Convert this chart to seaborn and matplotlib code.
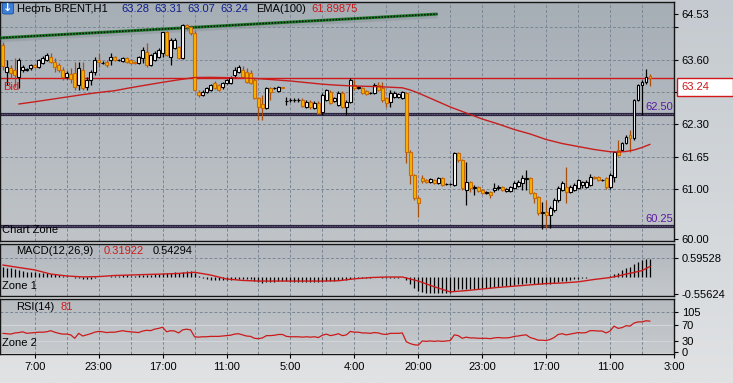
import numpy as np
import pandas as pd
import matplotlib
matplotlib.use("Agg")
import matplotlib.pyplot as plt
import seaborn as sns
from matplotlib.colors import LinearSegmentedColormap
from matplotlib.patches import Rectangle, FancyBboxPatch

# ---------------- data ----------------
open_ = [63.90,63.35,63.43,63.39,63.25,63.39,63.40,63.43,63.49,63.45,
         63.53,63.59,63.65,63.55,63.49,63.39,63.25,63.31,63.33,63.09,
         63.39,63.05,63.19,63.35,63.59,63.53,63.55,63.59,63.65,63.59,
         63.57,63.63,63.59,63.55,63.53,63.63,63.75,63.49,63.59,63.65,
         63.73,64.16,63.65,63.83,63.85,63.63,64.30,64.26,64.14,62.95,
         62.89,62.95,62.99,63.13,63.09,63.05,63.13,63.13,63.29,63.35,
         63.39,63.35,63.33,63.19,62.83,62.71,62.63,63.03,63.03,62.97,
         63.05,62.77,62.79,62.79,62.79,62.79,62.65,62.75,62.63,62.73,
         62.55,62.79,62.95,62.77,62.69,62.93,62.65,62.75,63.09,63.03,
         63.03,62.97,62.93,62.93,63.09,63.03,62.83,62.75,62.85,62.85,
         62.83,62.93,61.74,61.28,60.82,61.22,61.18,61.14,61.18,61.12,
         61.22,61.10,61.10,61.08,61.72,61.58,60.98,61.14,61.02,61.04,
         60.98,60.92,60.94,60.98,61.02,61.04,60.96,60.96,61.02,61.06,
         61.12,61.20,61.22,60.92,60.84,60.52,60.54,60.48,60.58,60.78,
         60.98,61.04,60.94,60.98,61.02,61.08,61.04,61.08,61.24,61.24,
         61.18,61.22,61.04,61.24,61.78,61.78,61.92,62.08,62.02,62.79,
         63.09,63.15,63.28]
high_ = [63.95,63.59,63.49,63.63,63.63,63.49,63.44,63.51,63.52,63.61,
         63.67,63.73,63.73,63.63,63.53,63.45,63.37,63.43,63.55,63.55,
         63.55,63.25,63.39,63.65,63.73,63.57,63.59,63.73,63.67,63.62,
         63.65,63.65,63.61,63.57,63.67,63.85,63.93,63.71,63.77,63.83,
         64.16,64.18,64.04,64.04,63.87,64.32,64.32,64.30,64.18,62.99,
         62.99,63.05,63.11,63.17,63.11,63.15,63.21,63.27,63.45,63.49,
         63.47,63.43,63.39,63.23,62.85,62.89,63.05,63.05,63.05,63.07,
         63.05,62.85,62.83,62.83,62.83,62.83,62.79,62.79,62.77,62.77,
         62.93,63.01,62.99,62.85,62.97,62.97,62.79,63.23,63.19,63.07,
         63.05,62.99,62.95,63.13,63.15,63.15,62.85,62.99,62.97,62.93,
         62.97,62.95,61.78,61.30,60.86,61.28,61.20,61.22,61.20,61.24,
         61.24,61.12,61.12,61.74,61.74,61.60,61.54,61.16,61.08,61.06,
         61.00,60.96,60.96,61.12,61.08,61.06,61.02,61.06,61.16,61.18,
         61.28,61.38,61.24,60.94,60.86,60.74,60.78,60.66,60.82,61.06,
         61.16,61.44,61.08,61.12,61.20,61.16,61.18,61.30,61.26,61.26,
         61.20,61.24,61.32,61.76,61.98,61.94,62.08,62.18,62.81,63.11,
         63.19,63.41,63.31]
low_ = [63.40,63.09,63.23,63.05,63.03,63.35,63.37,63.40,63.43,63.43,
        63.51,63.57,63.53,63.35,63.35,63.19,63.21,63.13,62.99,62.99,
        62.99,62.99,63.09,63.29,63.45,63.51,63.45,63.49,63.57,63.57,
        63.55,63.53,63.51,63.51,63.51,63.53,63.45,63.47,63.57,63.63,
        63.65,63.67,63.49,63.81,63.61,63.61,64.20,64.10,62.97,62.85,
        62.87,62.93,62.97,63.01,62.97,63.01,63.11,63.11,63.23,63.33,
        63.23,63.13,63.11,62.81,62.39,62.39,62.61,62.79,63.01,62.95,
        63.03,62.69,62.75,62.75,62.75,62.65,62.63,62.61,62.61,62.51,
        62.49,62.77,62.71,62.75,62.67,62.63,62.49,62.73,62.99,63.01,
        62.91,62.89,62.91,62.91,62.97,62.75,62.65,62.65,62.83,62.83,
        62.81,61.52,61.10,60.78,60.44,61.12,61.12,61.12,61.10,61.10,
        61.06,61.08,61.08,61.06,61.54,60.98,60.68,60.94,60.88,60.94,
        60.90,60.90,60.82,60.94,60.98,60.96,60.94,60.94,61.00,61.04,
        60.98,60.98,60.90,60.72,60.48,60.20,60.22,60.22,60.54,60.74,
        60.96,60.72,60.92,60.96,61.00,61.02,61.02,61.06,61.20,61.16,
        61.16,61.00,61.00,61.14,61.66,61.76,61.90,61.74,61.98,62.77,
        62.49,63.11,63.07]
close_ = [63.47,63.45,63.33,63.29,63.59,63.45,63.41,63.49,63.45,63.59,
          63.63,63.69,63.55,63.45,63.39,63.25,63.33,63.21,63.05,63.43,
          63.03,63.19,63.35,63.59,63.55,63.54,63.49,63.65,63.59,63.60,
          63.63,63.55,63.53,63.53,63.65,63.79,63.49,63.69,63.73,63.79,
          64.16,63.69,64.00,64.00,63.63,64.30,64.26,64.14,62.99,62.89,
          62.95,63.03,63.09,63.03,62.99,63.13,63.19,63.23,63.39,63.45,
          63.25,63.15,63.13,62.83,62.65,62.63,63.03,62.95,63.03,63.05,
          63.03,62.77,62.79,62.79,62.79,62.67,62.75,62.65,62.73,62.53,
          62.89,62.99,62.73,62.83,62.93,62.65,62.75,63.19,63.03,63.05,
          62.93,62.91,62.93,63.09,62.99,62.79,62.73,62.93,62.93,62.91,
          62.95,61.74,61.28,60.82,60.72,61.16,61.14,61.20,61.12,61.22,
          61.08,61.10,61.11,61.72,61.58,61.02,61.14,61.02,61.04,60.96,
          60.92,60.94,60.88,61.02,61.04,60.98,61.00,61.04,61.12,61.14,
          61.22,61.22,60.92,60.82,60.52,60.54,60.48,60.62,60.78,61.02,
          61.12,60.94,61.04,61.08,61.18,61.14,61.14,61.24,61.22,61.18,
          61.18,61.04,61.28,61.74,61.68,61.92,62.04,62.02,62.79,63.09,
          63.15,63.25,63.24]

ema_idx = [4,8,12,16,20,24,28,32,36,40,44,48,52,56,60,64,68,72,76,80,84,88,92,96,100,
           102,104,108,112,116,120,124,128,132,136,140,144,148,152,154,156,158,160,162]
ema_val = [62.710,62.755,62.803,62.851,62.899,62.942,62.978,63.038,63.093,63.147,
           63.197,63.243,63.247,63.241,63.233,63.221,63.197,63.173,63.141,63.109,
           63.087,63.072,63.064,63.052,63.036,62.992,62.932,62.791,62.650,62.529,
           62.408,62.308,62.197,62.107,61.996,61.915,61.855,61.795,61.750,61.744,
           61.755,61.785,61.835,61.899]

macd_hist = [0.30,0.28,0.26,0.24,0.20,0.18,0.16,0.14,0.13,0.12,
             0.11,0.10,0.08,0.07,0.05,0.03,0.01,0.00,-0.03,-0.05,
             -0.07,-0.08,-0.06,-0.04,-0.02,-0.01,0.00,0.01,0.02,0.03,
             0.04,0.04,0.03,0.03,0.04,0.06,0.05,0.05,0.07,0.09,
             0.12,0.11,0.12,0.13,0.12,0.16,0.18,0.18,0.10,0.02,
             -0.04,-0.08,-0.10,-0.11,-0.12,-0.12,-0.12,-0.11,-0.09,-0.07,
             -0.07,-0.08,-0.09,-0.13,-0.18,-0.21,-0.18,-0.17,-0.16,-0.15,
             -0.14,-0.15,-0.16,-0.16,-0.16,-0.17,-0.17,-0.17,-0.17,-0.18,
             -0.16,-0.14,-0.14,-0.13,-0.12,-0.12,-0.12,-0.07,-0.05,-0.04,
             -0.04,-0.04,-0.04,-0.02,-0.02,-0.04,-0.05,-0.04,-0.03,-0.03,
             -0.02,-0.12,-0.24,-0.36,-0.46,-0.48,-0.50,-0.51,-0.52,-0.52,
             -0.52,-0.52,-0.51,-0.44,-0.40,-0.40,-0.40,-0.39,-0.38,-0.38,
             -0.37,-0.36,-0.35,-0.34,-0.32,-0.31,-0.30,-0.28,-0.26,-0.24,
             -0.22,-0.20,-0.21,-0.22,-0.24,-0.24,-0.24,-0.23,-0.21,-0.18,
             -0.15,-0.13,-0.11,-0.09,-0.07,-0.05,-0.04,-0.02,-0.01,0.00,
             0.00,-0.01,0.02,0.08,0.12,0.20,0.26,0.31,0.39,0.46,
             0.52,0.54,0.54294]

sig_idx = [0,4,8,12,16,20,24,28,32,36,40,44,48,52,56,60,64,68,72,76,80,84,88,92,96,100,
           104,108,112,116,120,124,128,132,136,140,144,148,152,154,156,158,160,162]
sig_val = [0.365,0.286,0.21,0.08,0.02,-0.01,0.0,0.035,0.05,0.066,0.08,0.10,0.135,0.05,
           -0.075,-0.12,-0.14,-0.14,-0.14,-0.14,-0.14,-0.13,-0.07,-0.03,-0.013,-0.013,
           -0.14,-0.32,-0.48,-0.44,-0.39,-0.34,-0.30,-0.26,-0.22,-0.20,-0.165,-0.09,
           -0.03,0.02,0.08,0.13,0.19,0.319]

rsi_vals = [49,48,47,50,51,53,49,50,51,52,
            52,53,56,52,49,47,47,45,36,49,
            42,45,48,52,54,53,51,52,52,54,
            56,54,53,52,51,55,57,56,60,62,
            65,53,56,55,50,58,60,58,40,39,
            40,40,41,41,41,42,43,44,47,48,
            45,42,41,36,35,37,43,43,44,46,
            46,41,40,40,40,39,40,39,40,38,
            44,47,43,45,48,43,45,54,52,52,
            50,50,49,51,50,47,46,49,49,49,
            50,27,22,19,18,29,28,29,28,29,
            28,29,30,45,43,36,39,37,37,36,
            36,36,35,37,38,37,37,38,41,42,
            44,45,38,35,31,31,30,33,38,46,
            48,45,47,49,51,50,51,56,56,55,
            55,50,55,68,62,64,69,68,76,79,
            79,82,81]

trend_x = [-0.7, 108.8]
trend_y = [64.04, 64.52]

bid_price = 63.24
zone_levels = [62.50, 60.25]
price_ticks = [60.00, 61.00, 61.65, 62.30, 62.95, 63.60, 64.25, 64.53]
price_labels = ["60.00", "61.00", "61.65", "62.30", "", "63.60", "", "64.53"]
price_grid = [61.00, 61.65, 62.30, 62.95, 63.60, 64.25]
time_pos = [8, 24, 40, 56, 72, 88, 104, 120, 136, 152, 168]
time_labels = ["7:00", "23:00", "17:00", "11:00", "5:00", "4:00", "20:00",
               "23:00", "17:00", "11:00", "3:00"]

# ---------------- setup ----------------
sns.set_theme(style="white")
plt.rcParams['font.family'] = ['Liberation Sans', 'DejaVu Sans']
plt.rcParams['font.size'] = 8

W, H = 733, 383
fig = plt.figure(figsize=(W / 100, H / 100), dpi=100)

def gradient(ax, c1, c2):
    cmap = LinearSegmentedColormap.from_list('g', [c1, c2])
    ax.imshow(np.linspace(0, 1, 256).reshape(-1, 1), cmap=cmap, aspect='auto',
              extent=[0, 1, 0, 1], transform=ax.transAxes, origin='upper', zorder=0)

bg = fig.add_axes([0, 0, 1, 1], zorder=-10)
gradient(bg, '#c4cacf', '#e0e2e4')
bg.set_xlim(0, 1); bg.set_ylim(0, 1)
bg.axis('off')

def panel(top, bottom):
    return fig.add_axes([0, 1 - bottom / H, 674 / W, (bottom - top) / H])

main = panel(2, 241)
macd = panel(243.5, 296)
rsi = panel(298.5, 353.5)

gradient(main, '#a6aeb6', '#c0c4c8')
gradient(macd, '#b1b7bd', '#c4c8cc')
gradient(rsi, '#b5bbc0', '#c7cacd')

n = len(close_)
x = np.arange(n)
O = np.array(open_); Hh = np.array(high_); L = np.array(low_); C = np.array(close_)
bull = C >= O
df = pd.DataFrame({'i': x, 'rsi': rsi_vals, 'hist': macd_hist})

grid_kw = dict(color='#7c8795', lw=0.7, ls=(0, (3, 2)), zorder=1)
for ax in (main, macd, rsi):
    for gi in range(8, 161, 8):
        ax.axvline(gi, **grid_kw)
for p in price_grid:
    main.axhline(p, **grid_kw)
macd.axhline(0.59528, **grid_kw)
rsi.axhline(105, **grid_kw)
rsi.axhline(70, color='#d2d6da', lw=0.8, zorder=1)
rsi.axhline(30, color='#d2d6da', lw=0.8, zorder=1)

# zone lines
for z in zone_levels:
    main.axhline(z, color='#2c2640', lw=2.3, zorder=2)
    main.axhline(z, color='#8a80a8', lw=0.6, ls=(0, (0.8, 1.2)), zorder=2)

# bid line
main.axhline(bid_price, color='#d01818', lw=1.0, zorder=2)

# trend line (green dotted with shadow)
main.plot(trend_x, [v - 0.045 for v in trend_y], color='#8d959d', lw=3.0, alpha=0.5, zorder=2,
          solid_capstyle='butt')
main.plot(trend_x, trend_y, color='#1f7a2a', lw=2.2, zorder=3, solid_capstyle='butt')
main.plot(trend_x, trend_y, color='#101010', lw=1.1, ls=(0, (1, 1)), zorder=3)

# candles
main.vlines(x[bull], L[bull], Hh[bull], color='black', lw=0.9, zorder=4)
main.vlines(x[~bull], L[~bull], Hh[~bull], color='#a8500c', lw=0.9, zorder=4)
main.bar(x[bull], np.maximum(C - O, 0.006)[bull], bottom=O[bull], width=0.72,
         color='white', edgecolor='black', lw=0.8, zorder=5)
main.bar(x[~bull], np.maximum(O - C, 0.006)[~bull], bottom=C[~bull], width=0.72,
         color='#f7b500', edgecolor='#c86a08', lw=0.8, zorder=5)

# EMA
sns.lineplot(x=ema_idx, y=ema_val, ax=main, color='#c81e1e', lw=1.0, zorder=6, legend=False)

# MACD
macd.vlines(df['i'], 0, df['hist'], color='black', lw=0.9, zorder=3)
sns.lineplot(x=sig_idx, y=sig_val, ax=macd, color='#cc1a1a', lw=1.0, zorder=4, legend=False)

# RSI
sns.lineplot(data=df, x='i', y='rsi', ax=rsi, color='#cc1a1a', lw=0.9, zorder=4, legend=False)

# limits / axes
xl = (-0.7, 168.0)
main.set_xlim(xl); macd.set_xlim(xl); rsi.set_xlim(xl)
main.set_ylim(59.9537, 64.7626)
macd.set_ylim(-0.610, 1.041)
rsi.set_ylim(-3.9, 140.4)

for ax in (main, macd, rsi):
    ax.set_xlabel(''); ax.set_ylabel('')
    ax.yaxis.tick_right()
    ax.tick_params(axis='y', direction='out', length=3, width=0.8, pad=2.5,
                   labelsize=8, colors='black', right=True, left=False)
    for s in ax.spines.values():
        s.set_color('#151515'); s.set_linewidth(1.0)
        s.set_visible(True)
    ax.grid(False)

main.set_xticks([]); macd.set_xticks([])
main.set_yticks(price_ticks); main.set_yticklabels(price_labels)
macd.set_yticks([0.59528, -0.55624]); macd.set_yticklabels(["0.59528", "-0.55624"])
rsi.set_yticks([105, 70, 30, 0]); rsi.set_yticklabels(["105", "70", "30", "0"])
rsi.set_xticks(time_pos); rsi.set_xticklabels(time_labels)
rsi.tick_params(axis='x', direction='out', length=3, width=0.8, pad=3, labelsize=8,
                colors='black', bottom=True)

# ---------------- texts ----------------
def ptext(px, py, s, color='black', size=8, ha='left', **kw):
    fig.text(px / W, 1 - py / H, s, color=color, fontsize=size, ha=ha, va='center', **kw)

icon = FancyBboxPatch((2.5 / W, 1 - 14 / H), 11 / W, 11 / H, boxstyle='round,pad=0,rounding_size=0.003',
                      transform=fig.transFigure, facecolor='#3b7fd8', edgecolor='#1e4f9e', lw=0.6)
fig.patches.append(icon)
ptext(8, 8.3, '↓', color='white', size=8, ha='center', fontweight='bold', family='DejaVu Sans')

ptext(17, 9, 'Нефть BRENT,H1')
navy = '#10208c'
ptext(121, 9, '63.28', color=navy)
ptext(154, 9, '63.31', color=navy)
ptext(187, 9, '63.07', color=navy)
ptext(220, 9, '63.24', color=navy)
ptext(256, 9, 'EMA(100)')
ptext(311, 9, '61.89875', color='#cc1a1a')

ptext(3, 87, 'Bid', color='#d01818')
ptext(645, 107, '62.50', color='#5a1aa0')
ptext(645, 219, '60.25', color='#5a1aa0')
ptext(2, 230, 'Chart Zone')

ptext(16, 251.5, 'MACD(12,26,9)')
ptext(104, 251.5, '0.31922', color='#cc1a1a')
ptext(153, 251.5, '0.54294')
ptext(2, 286, 'Zone 1')
ptext(16, 306.5, 'RSI(14)')
ptext(60, 306.5, '81', color='#cc1a1a')
ptext(2, 343, 'Zone 2')

# current price box on the right scale
box = Rectangle((677 / W, 1 - 96 / H), 56 / W, 18 / H, transform=fig.transFigure,
                facecolor='white', edgecolor='#d01818', lw=1.0, zorder=10)
fig.patches.append(box)
ptext(681, 87, '63.24', color='#d01818', zorder=11)

fig.savefig('out.png', dpi=100)
